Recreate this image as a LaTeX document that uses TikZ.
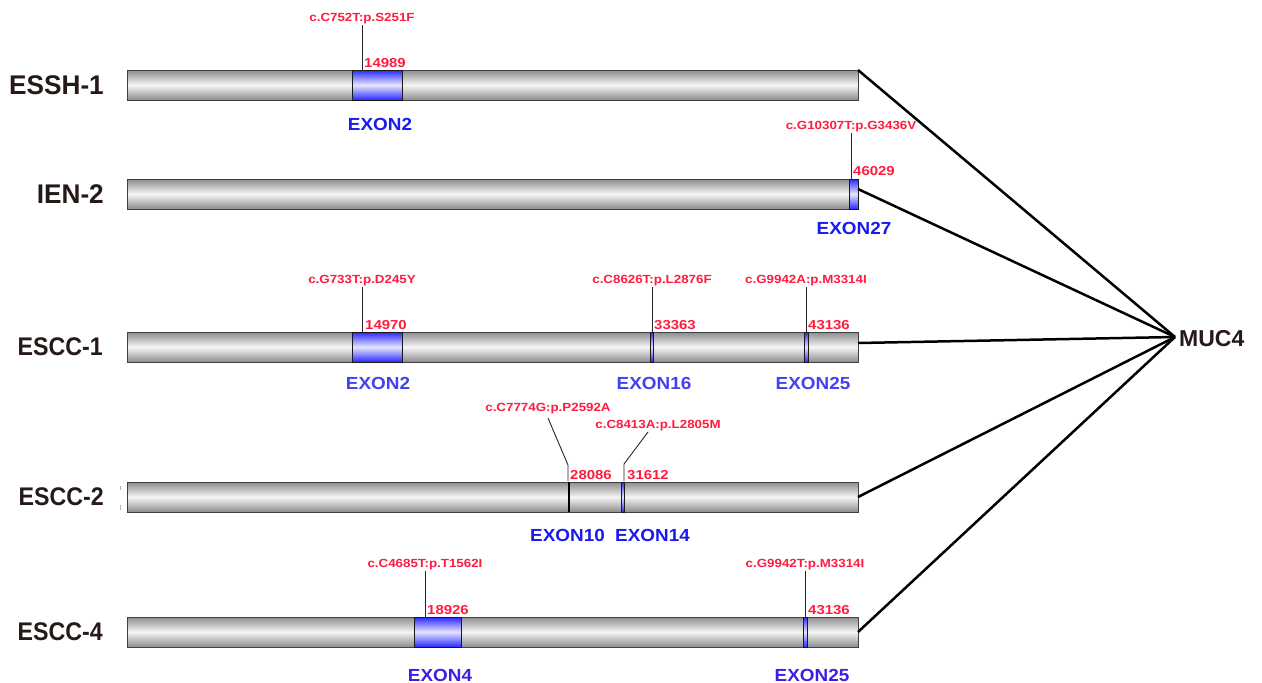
\documentclass[tikz,border=0pt]{standalone}
\usepackage{fontspec}
\setmainfont{Liberation Sans}
\usepackage{graphicx}
\definecolor{mutred}{RGB}{255,28,64}
\definecolor{lbl}{RGB}{38,26,24}
\definecolor{exA}{RGB}{26,26,240}
\definecolor{exB}{RGB}{66,66,238}
\definecolor{exC}{RGB}{62,30,226}
\definecolor{bargray}{RGB}{140,140,140}
\definecolor{exedge}{RGB}{40,40,255}
\newcommand\mutxt[1]{\scalebox{1.13}[1]{\fontsize{11.8}{13}\selectfont\bfseries #1}}
\newcommand\postxt[1]{\scalebox{1.15}[1]{\fontsize{13}{15}\selectfont\bfseries #1}}
\newcommand\extxt[1]{\scalebox{1.08}[1]{\fontsize{17.5}{20}\selectfont\bfseries #1}}
\newcommand\smptxt[1]{\scalebox{0.97}[1]{\fontsize{27}{31}\selectfont\bfseries #1}}
\newcommand\smptxtb[1]{\scalebox{0.91}[1]{\fontsize{25.5}{30}\selectfont\bfseries #1}}
\tikzset{
  bar/.style={draw=black!75, line width=0.8pt, top color=bargray, bottom color=bargray,
    middle color=white!96!black, minimum height=30pt, minimum width=731pt, inner sep=0pt, outer sep=0pt, anchor=west},
  exon/.style={draw=black!90, line width=0.8pt, top color=exedge, bottom color=exedge,
    middle color=white!90!blue, minimum height=30pt, inner sep=0pt, outer sep=0pt, anchor=west},
  thinex/.style={fill=black, minimum height=30pt, minimum width=2pt, inner sep=0pt, outer sep=0pt, anchor=west},
  mut/.style={text=mutred, anchor=base, inner sep=0pt},
  posnum/.style={text=mutred, anchor=base west, inner sep=0pt},
  exl/.style={inner sep=0pt},
  smp/.style={text=lbl, anchor=east, inner sep=0pt},
  leader/.style={draw=black!85, line width=0.9pt},
  link/.style={draw=black, line width=2.5pt},
}
\begin{document}
\begin{tikzpicture}[x=1pt,y=-1pt]
\useasboundingbox[fill=white] (0,0) rectangle (1262,683);

% sample labels
\node[smp] (s1) at (104,85) {\smptxt{ESSH-1}};
\node[smp] (s2) at (104,194) {\smptxt{IEN-2}};
\node[smp] (s3) at (103,347) {\smptxtb{ESCC-1}};
\node[smp] (s4) at (104,497) {\smptxtb{ESCC-2}};
\node[smp] (s5) at (103,632) {\smptxtb{ESCC-4}};

% bars
\node[bar] (b1) at (127,85) {};
\node[bar] (b2) at (127,194) {};
\node[bar] (b3) at (127,347) {};
\node[bar] (b4) at (127,497) {};
\node[bar] (b5) at (127,632) {};

% small marks near ESCC-2
\draw[gray!60, line width=0.8pt] (120,486) -- (120,490) (120,505) -- (120,510);

% exons
\node[exon, minimum width=50pt] (e1) at (352,85) {};
\node[exon, minimum width=9pt] (e2) at (849,194) {};
\node[exon, minimum width=50pt] (e3a) at (352,347) {};
\node[exon, minimum width=3.5pt] (e3b) at (650,347) {};
\node[exon, minimum width=4pt] (e3c) at (804,347) {};
\node[thinex] (e4a) at (567.5,497) {};
\node[exon, minimum width=3.5pt] (e4b) at (621,497) {};
\node[exon, minimum width=47pt] (e5a) at (414,632) {};
\node[exon, minimum width=4pt] (e5b) at (803.5,632) {};

% mutation labels
\node[mut] (m1) at (362,21) {\mutxt{c.C752T:p.S251F}};
\node[mut] (m2) at (851,129) {\mutxt{c.G10307T:p.G3436V}};
\node[mut] (m3) at (362,283) {\mutxt{c.G733T:p.D245Y}};
\node[mut] (m4) at (652,283) {\mutxt{c.C8626T:p.L2876F}};
\node[mut] (m5) at (806,283) {\mutxt{c.G9942A:p.M3314I}};
\node[mut] (m6) at (548,411) {\mutxt{c.C7774G:p.P2592A}};
\node[mut] (m7) at (658,428) {\mutxt{c.C8413A:p.L2805M}};
\node[mut] (m8) at (425,567) {\mutxt{c.C4685T:p.T1562I}};
\node[mut] (m9) at (805,567) {\mutxt{c.G9942T:p.M3314I}};

% leaders
\draw[leader] ([yshift=-4pt]m1.base) -- (m1.base |- b1.north);
\draw[leader] ([yshift=-4pt]m2.base) -- (m2.base |- b2.north);
\draw[leader] ([yshift=-4pt]m3.base) -- (m3.base |- b3.north);
\draw[leader] ([yshift=-4pt]m4.base) -- (m4.base |- b3.north);
\draw[leader] ([yshift=-4pt]m5.base) -- (m5.base |- b3.north);
\draw[leader] ([yshift=-7pt]m6.base) -- (568,465) -- (568,481);
\draw[leader] ([yshift=-4pt,xshift=-10pt]m7.base) -- (624,464) -- (624,481);
\draw[leader] ([yshift=-4pt]m8.base) -- (m8.base |- b5.north);
\draw[leader] ([yshift=-4pt]m9.base) -- (m9.base |- b5.north);

% positions
\node[posnum] (n1) at (364,67) {\postxt{14989}};
\node[posnum] (n2) at (853,175) {\postxt{46029}};
\node[posnum] (n3) at (365,329) {\postxt{14970}};
\node[posnum] (n4) at (654,329) {\postxt{33363}};
\node[posnum] (n5) at (808,329) {\postxt{43136}};
\node[posnum] (n6) at (570,479) {\postxt{28086}};
\node[posnum] (n7) at (627,479) {\postxt{31612}};
\node[posnum] (n8) at (427,614) {\postxt{18926}};
\node[posnum] (n9) at (808,614) {\postxt{43136}};

% exon labels
\node[exl, text=exA] (x1) at (380,124) {\extxt{EXON2}};
\node[exl, text=exA] (x2) at (854,228) {\extxt{EXON27}};
\node[exl, text=exB] (x3a) at (378,383) {\extxt{EXON2}};
\node[exl, text=exB] (x3b) at (654,383) {\extxt{EXON16}};
\node[exl, text=exB] (x3c) at (813,383) {\extxt{EXON25}};
\node[exl, text=exA] (x4a) at (567.5,535) {\extxt{EXON10}};
\node[exl, text=exA] (x4b) at (652.5,535) {\extxt{EXON14}};
\node[exl, text=exC] (x5a) at (440,675) {\extxt{EXON4}};
\node[exl, text=exC] (x5b) at (812,675) {\extxt{EXON25}};

% MUC4 hub
\coordinate (hub) at (1175,337);
\node[text=lbl, anchor=west, inner sep=0pt] (muc) at (1179,339) {\fontsize{23}{26}\selectfont\bfseries MUC4};
\draw[link] (b1.north east) -- (hub);
\draw[link] ([yshift=5pt]b2.east) -- (hub);
\draw[link] ([yshift=4pt]b3.east) -- (hub);
\draw[link] (b4.east) -- (hub);
\draw[link] (b5.east) -- (hub);
\end{tikzpicture}
\end{document}
